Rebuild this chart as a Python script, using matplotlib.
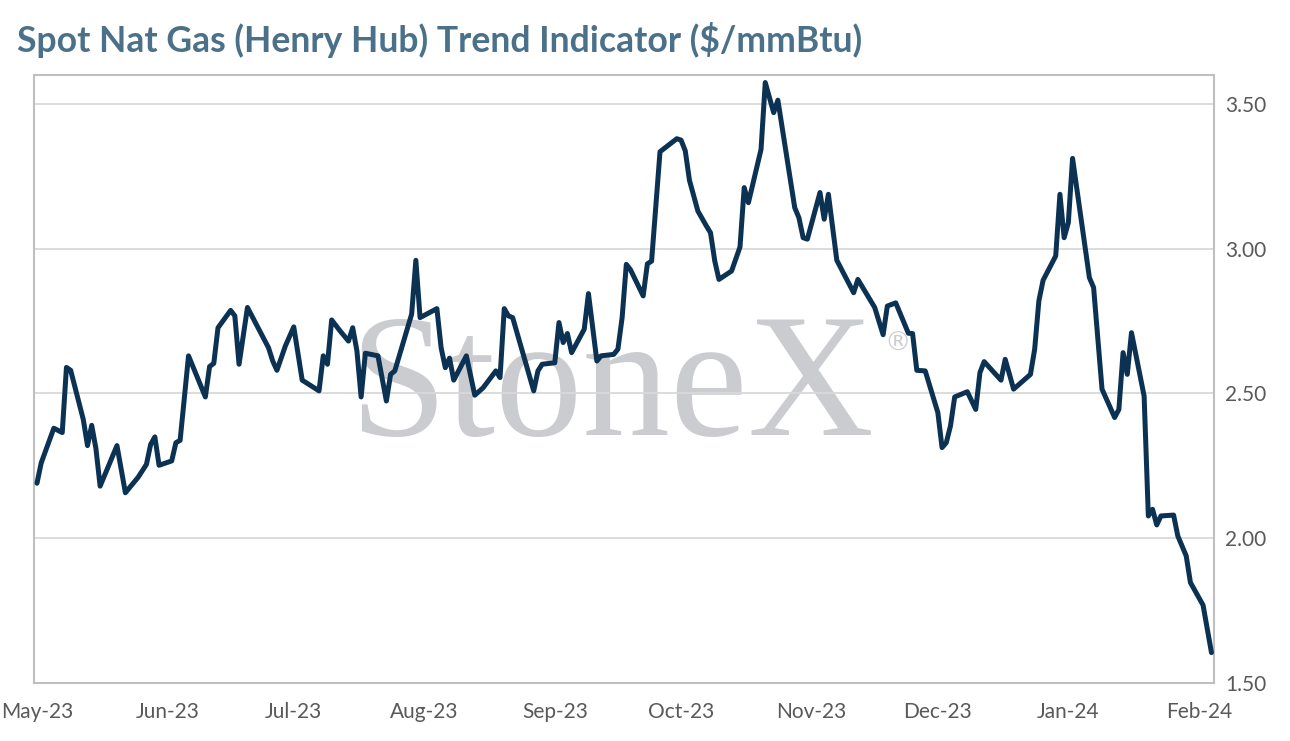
import matplotlib
matplotlib.use("Agg")
import matplotlib.pyplot as plt
import matplotlib.dates as mdates
import pandas as pd

dates = [
    "2023-05-01", "2023-05-02", "2023-05-05", "2023-05-07", "2023-05-08", "2023-05-09",
    "2023-05-12", "2023-05-13", "2023-05-14", "2023-05-15", "2023-05-16", "2023-05-20",
    "2023-05-22", "2023-05-23", "2023-05-25", "2023-05-27", "2023-05-28", "2023-05-29",
    "2023-05-30", "2023-06-02", "2023-06-03", "2023-06-04", "2023-06-06", "2023-06-10",
    "2023-06-11", "2023-06-12", "2023-06-13", "2023-06-16", "2023-06-17", "2023-06-18",
    "2023-06-20", "2023-06-25", "2023-06-26", "2023-06-27", "2023-06-29", "2023-07-01",
    "2023-07-03", "2023-07-07", "2023-07-08", "2023-07-09", "2023-07-10", "2023-07-12",
    "2023-07-14", "2023-07-15", "2023-07-16", "2023-07-17", "2023-07-18", "2023-07-21",
    "2023-07-23", "2023-07-24", "2023-07-25", "2023-07-29", "2023-07-30", "2023-07-31",
    "2023-08-04", "2023-08-05", "2023-08-06", "2023-08-07", "2023-08-08", "2023-08-11",
    "2023-08-13", "2023-08-15", "2023-08-18", "2023-08-19", "2023-08-20", "2023-08-21",
    "2023-08-22", "2023-08-27", "2023-08-28", "2023-08-29", "2023-09-01", "2023-09-02",
    "2023-09-03", "2023-09-04", "2023-09-05", "2023-09-08", "2023-09-09", "2023-09-11",
    "2023-09-12", "2023-09-15", "2023-09-16", "2023-09-17", "2023-09-18", "2023-09-19",
    "2023-09-22", "2023-09-23", "2023-09-24", "2023-09-26", "2023-09-30", "2023-10-01",
    "2023-10-02", "2023-10-03", "2023-10-05", "2023-10-07", "2023-10-08", "2023-10-09",
    "2023-10-10", "2023-10-13", "2023-10-15", "2023-10-16", "2023-10-17", "2023-10-20",
    "2023-10-21", "2023-10-23", "2023-10-24", "2023-10-28", "2023-10-29", "2023-10-30",
    "2023-10-31", "2023-11-03", "2023-11-04", "2023-11-05", "2023-11-07", "2023-11-11",
    "2023-11-12", "2023-11-16", "2023-11-18", "2023-11-19", "2023-11-21", "2023-11-24",
    "2023-11-25", "2023-11-26", "2023-11-28", "2023-12-01", "2023-12-02", "2023-12-03",
    "2023-12-04", "2023-12-05", "2023-12-08", "2023-12-10", "2023-12-11", "2023-12-12",
    "2023-12-16", "2023-12-17", "2023-12-19", "2023-12-23", "2023-12-24", "2023-12-25",
    "2023-12-26", "2023-12-29", "2023-12-30", "2023-12-31", "2024-01-01", "2024-01-02",
    "2024-01-06", "2024-01-07", "2024-01-09", "2024-01-12", "2024-01-13", "2024-01-14",
    "2024-01-15", "2024-01-16", "2024-01-19", "2024-01-20", "2024-01-21", "2024-01-22",
    "2024-01-23", "2024-01-26", "2024-01-27", "2024-01-29", "2024-01-30", "2024-02-02",
    "2024-02-04",
]
prices = [
    2.19, 2.26, 2.38, 2.365, 2.59, 2.58,
    2.41, 2.32, 2.39, 2.31, 2.18, 2.32,
    2.157, 2.175, 2.21, 2.255, 2.324, 2.35,
    2.252, 2.267, 2.33, 2.338, 2.63, 2.488,
    2.593, 2.604, 2.727, 2.787, 2.768, 2.601,
    2.797, 2.658, 2.612, 2.58, 2.664, 2.73,
    2.546, 2.509, 2.63, 2.601, 2.754, 2.716,
    2.681, 2.727, 2.647, 2.488, 2.639, 2.63,
    2.474, 2.566, 2.578, 2.774, 2.96, 2.762,
    2.793, 2.658, 2.589, 2.622, 2.546, 2.63,
    2.494, 2.52, 2.578, 2.555, 2.793, 2.768,
    2.762, 2.509, 2.578, 2.601, 2.606, 2.745,
    2.676, 2.707, 2.641, 2.722, 2.845, 2.612,
    2.63, 2.635, 2.653, 2.762, 2.946, 2.927,
    2.837, 2.948, 2.957, 3.335, 3.38, 3.375,
    3.338, 3.236, 3.13, 3.079, 3.055, 2.958,
    2.894, 2.923, 3.006, 3.211, 3.159, 3.343,
    3.574, 3.47, 3.513, 3.142, 3.107, 3.038,
    3.033, 3.194, 3.102, 3.188, 2.96, 2.848,
    2.894, 2.797, 2.703, 2.802, 2.813, 2.708,
    2.707, 2.58, 2.578, 2.434, 2.313, 2.33,
    2.388, 2.488, 2.506, 2.445, 2.572, 2.61,
    2.546, 2.618, 2.515, 2.566, 2.653, 2.82,
    2.891, 2.975, 3.188, 3.038, 3.09, 3.312,
    2.90, 2.866, 2.515, 2.417, 2.445, 2.641,
    2.566, 2.71, 2.491, 2.077, 2.10, 2.046,
    2.077, 2.08, 2.008, 1.939, 1.847, 1.769,
    1.605,
]
month_ticks = ["2023-05-01", "2023-06-01", "2023-07-01", "2023-08-01", "2023-09-01",
               "2023-10-01", "2023-11-01", "2023-12-01", "2024-01-01", "2024-02-01"]
y_ticks = [1.50, 2.00, 2.50, 3.00, 3.50]
title = "Spot Nat Gas (Henry Hub) Trend Indicator ($/mmBtu)"

x = pd.to_datetime(dates)
xt = pd.to_datetime(month_ticks)

fig = plt.figure(figsize=(12.9, 7.41), dpi=100)
ax = fig.add_axes([34 / 1290, 1 - 683 / 741, (1214 - 34) / 1290, (683 - 75) / 741])

ax.plot(x, prices, color="#0c3253", lw=3.6, solid_joinstyle="round",
        solid_capstyle="round", zorder=3)

start = pd.Timestamp("2023-05-01")
ax.set_xlim(start - pd.Timedelta(hours=17), start + pd.Timedelta(days=279.6))
ax.set_ylim(1.5, 3.6)

ax.set_xticks(xt)
ax.xaxis.set_major_formatter(mdates.DateFormatter("%b-%y"))
ax.set_yticks(y_ticks)
ax.set_yticklabels([f"{v:.2f}" for v in y_ticks])
ax.yaxis.tick_right()
ax.tick_params(axis="both", length=0, labelsize=15, labelcolor="#595959")
ax.tick_params(axis="x", pad=14)
ax.tick_params(axis="y", pad=8)
for lab in ax.get_xticklabels() + ax.get_yticklabels():
    lab.set_fontfamily("Lato")

ax.grid(axis="y", color="#d9d9d9", lw=1.3, zorder=1)
ax.set_axisbelow(True)
for s in ax.spines.values():
    s.set_color("#bfbfbf")
    s.set_linewidth(1.5)

ax.text(0.49, 0.408, "StoneX", transform=ax.transAxes, ha="center", va="baseline",
        fontsize=126, family="Liberation Serif", color="#cbcccf", zorder=0.5)
ax.text(0.732, 0.558, "\u00ae", transform=ax.transAxes, ha="center", va="center",
        fontsize=19, family="DejaVu Sans", color="#cbcccf", zorder=0.5)

fig.text(17 / 1290, 1 - 40 / 741, title, ha="left", va="center", fontsize=25.6,
         fontweight="bold", family="Lato", color="#4a7189")

fig.savefig("out.png", dpi=100)
